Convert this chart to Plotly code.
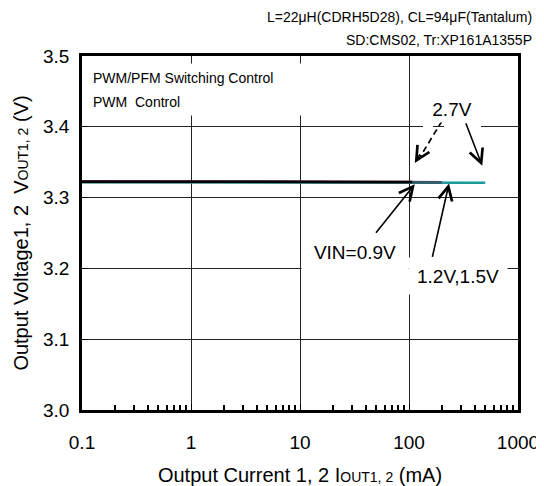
import math
import plotly.graph_objects as go

# Messwerte: Ausgangsstrom (mA) und Ausgangsspannung (V) je Eingangsspannung
iout_09 = [0.1, 0.2, 0.5, 1, 2, 5, 10, 20, 50, 107]
vout_09 = [3.3225, 3.3225, 3.3225, 3.3222, 3.3222, 3.3222, 3.322, 3.322, 3.322, 3.322]

iout_12 = [0.1, 0.2, 0.5, 1, 2, 5, 10, 20, 50, 100, 200]
vout_12 = [3.3232, 3.3232, 3.323, 3.323, 3.3228, 3.3226, 3.3224, 3.3224, 3.3222, 3.322, 3.3218]

iout_15 = [0.1, 0.2, 0.5, 1, 2, 5, 10, 20, 50, 100, 200]
vout_15 = [3.3222, 3.3222, 3.3222, 3.3222, 3.322, 3.322, 3.322, 3.322, 3.3218, 3.3218, 3.3215]

iout_27 = [0.1, 0.2, 0.5, 1, 2, 5, 10, 20, 50, 100, 200, 500]
vout_27 = [3.3218, 3.3218, 3.3218, 3.3218, 3.3218, 3.3218, 3.3218, 3.3218, 3.3216, 3.3216, 3.3214, 3.321]

x_ticks = [0.1, 1, 10, 100, 1000]
x_tick_labels = ["0.1", "1", "10", "100", "1000"]
y_ticks = [3.0, 3.1, 3.2, 3.3, 3.4, 3.5]

FONT = "Liberation Sans, Arial, sans-serif"

fig = go.Figure()

# Kurven (2.7V zuerst, 0.9V oben drauf)
for x, y, color in [
    (iout_27, vout_27, "#1a9a9a"),
    (iout_12, vout_12, "#8a2a6a"),
    (iout_15, vout_15, "#2c5f66"),
    (iout_09, vout_09, "#000000"),
]:
    fig.add_trace(go.Scatter(x=x, y=y, mode="lines", line=dict(color=color, width=2.5),
                             showlegend=False, hoverinfo="skip"))

minor_vals = [m * 10 ** d for d in range(-1, 3) for m in range(2, 10)]


def px_to_paper(px, py):
    # Plotbereich im Fenster: x 82..518, y 56..410 (Pixel)
    return (px - 82) / 436, (410 - py) / 354


annotations = []


# Textfelder mit weissem Hintergrund
def text_box(text, px, py, w, h, size=19, xanchor="center", align="center"):
    x, y = px_to_paper(px, py)
    annotations.append(dict(text=text, x=x, y=y, xref="paper", yref="paper", showarrow=False,
                            xanchor=xanchor, yanchor="middle", width=w, height=h, align=align,
                            bgcolor="white", font=dict(size=size, color="black", family=FONT)))


text_box("PWM/PFM Switching Control", 91, 78, 216, 26, size=14, xanchor="left", align="left")
text_box("PWM\u00a0 Control", 91, 102, 216, 24, size=14, xanchor="left", align="left")
text_box("2.7V", 452, 109, 58, 24)
text_box("VIN=0.9V", 355, 252, 104, 36)
text_box("1.2V,1.5V", 458, 276, 96, 34)


# Pfeile (Spitze in Datenkoordinaten, Ende als Pixelversatz)
def arrow(i_ma, v, ax, ay):
    annotations.append(dict(text="", x=math.log10(i_ma), y=v, xref="x", yref="y",
                            showarrow=True, ax=ax, ay=ay, arrowhead=5, arrowsize=1.7,
                            arrowwidth=1.6, arrowcolor="black", standoff=0))


arrow(113, 3.319, -40, 50)     # VIN=0.9V
arrow(233, 3.320, -17, 75)     # 1.2V,1.5V
arrow(470, 3.345, -17, -44)    # 2.7V
arrow(113, 3.349, 6, -10)      # 2.7V gestrichelt (nur Spitze)

# Luecke in der 3.4-Gitterlinie unter "2.7V" (links und rechts vom Strichpfeil)
for left, right in [(423, 433), (444, 481)]:
    gx0, gy0 = px_to_paper(left, 131)
    gx1, gy1 = px_to_paper(right, 122)
    fig.add_shape(type="rect", xref="paper", yref="paper", layer="above",
                  x0=gx0, x1=gx1, y0=gy0, y1=gy1,
                  fillcolor="white", line=dict(width=0))

# gestrichelter Schaft des 2.7V-Pfeils
dx0, dy0 = px_to_paper(442, 121)
dx1, dy1 = px_to_paper(420, 157)
fig.add_shape(type="line", xref="paper", yref="paper", layer="above",
              x0=dx0, y0=dy0, x1=dx1, y1=dy1,
              line=dict(color="black", width=1.7, dash="6px,4px"))

# Kopfzeilen
for text, py in [("L=22\u03bcH(CDRH5D28), CL=94\u03bcF(Tantalum)", 17),
                 ("SD:CMS02, Tr:XP161A1355P", 40)]:
    x, y = px_to_paper(534, py)
    annotations.append(dict(text=text, x=x, y=y, xref="paper", yref="paper", showarrow=False,
                            xanchor="right", yanchor="middle",
                            font=dict(size=14, color="black", family=FONT)))

# Seite hat 8px Rand -> Figur 536x478
fig.update_layout(
    width=536, height=478,
    margin=dict(l=74, r=26, t=48, b=76),
    paper_bgcolor="white", plot_bgcolor="white",
    font=dict(family=FONT, color="black", size=19),
    annotations=annotations,
)

fig.update_xaxes(
    type="log", range=[-1, 3],
    tickvals=x_ticks, ticktext=x_tick_labels,
    ticks="inside", ticklen=6, tickwidth=1, tickcolor="black",
    ticklabelstandoff=13,
    minor=dict(tickvals=minor_vals, ticks="inside", ticklen=5, tickwidth=1.5,
               tickcolor="black", showgrid=False),
    showgrid=True, gridcolor="#222", gridwidth=1,
    showline=True, linecolor="black", linewidth=2.5, mirror=True,
    zeroline=False, automargin=False,
    title=dict(text="Output Current 1, 2 I<span style='font-size:14px'>OUT1, 2</span> (mA)",
               font=dict(size=20), standoff=18),
)

fig.update_yaxes(
    range=[3.0, 3.5], tickvals=y_ticks, tickformat=".1f",
    ticks="inside", ticklen=5, tickwidth=1, tickcolor="black",
    ticklabelstandoff=6,
    showgrid=True, gridcolor="#222", gridwidth=1,
    showline=True, linecolor="black", linewidth=2.5, mirror=True,
    zeroline=False, automargin=False,
    title=dict(text="Output Voltage1, 2  V<span style='font-size:14px'>OUT1, 2</span> (V)",
               font=dict(size=20), standoff=10),
)

fig.write_html("out.html")
